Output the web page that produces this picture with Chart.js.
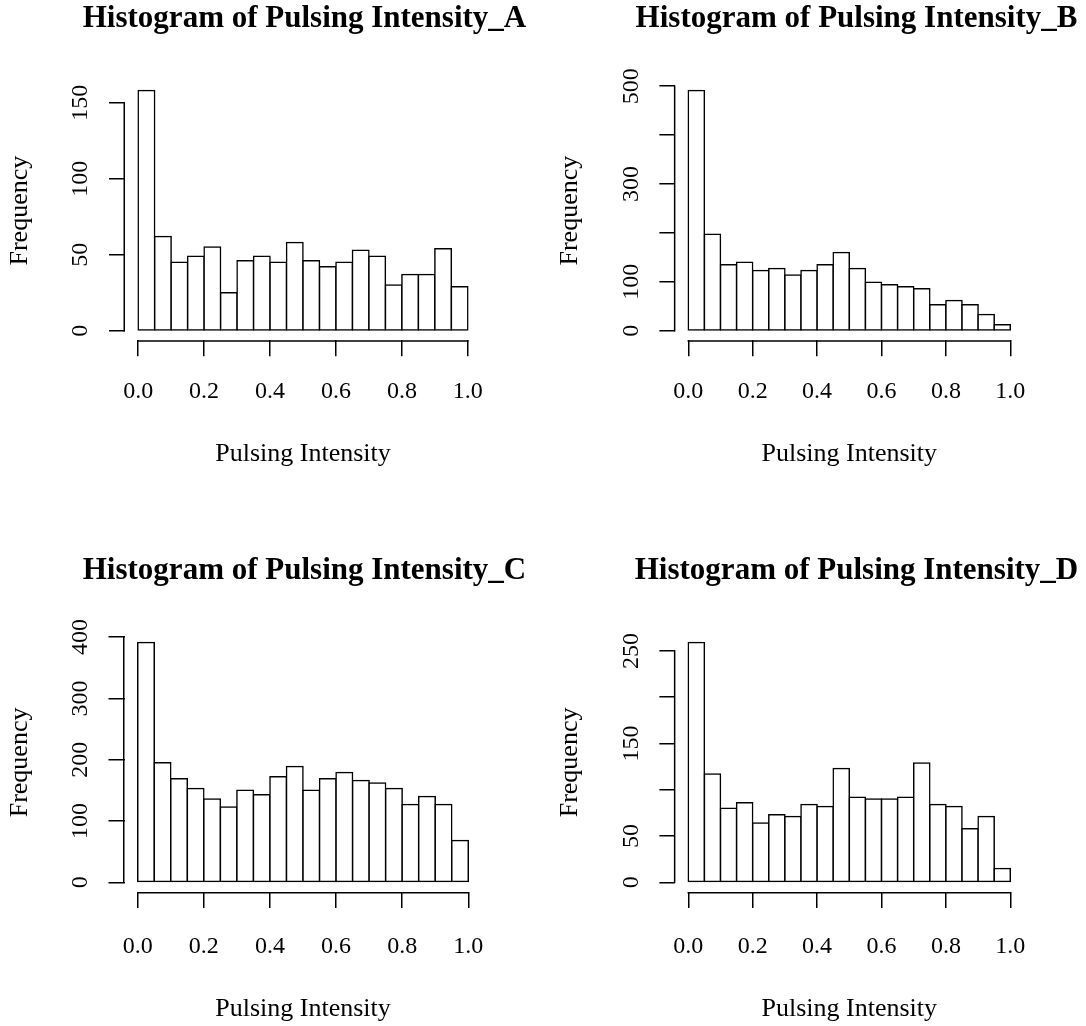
<!DOCTYPE html>
<html>
<head>
<meta charset="utf-8">
<title>Histograms of Pulsing Intensity</title>
<script src="https://cdn.jsdelivr.net/npm/chart.js@4.4.1/dist/chart.umd.min.js"></script>
<style>
  html, body { margin: 0; padding: 0; background: #ffffff; }
  #wrap { position: relative; width: 1086px; height: 1026px; overflow: hidden; background: #ffffff; }
  #wrap canvas { position: absolute; }
</style>
</head>
<body>
<div id="wrap">
  <canvas id="histA"></canvas>
  <canvas id="histB"></canvas>
  <canvas id="histC"></canvas>
  <canvas id="histD"></canvas>
</div>
<script>
// histogram bins: breaks every 0.05 from 0 to 1
const breaks = [0, 0.05, 0.1, 0.15, 0.2, 0.25, 0.3, 0.35, 0.4, 0.45, 0.5,
                0.55, 0.6, 0.65, 0.7, 0.75, 0.8, 0.85, 0.9, 0.95, 1.0];

// counts per bin
const countsA = [158, 62, 45, 49, 55, 25, 46, 49, 45, 58, 46, 42, 45, 53, 49, 30, 37, 37, 54, 29];
const countsB = [491, 197, 135, 140, 123, 127, 114, 123, 135, 160, 127, 99, 94, 90, 86, 53, 62, 53, 33, 12];
const countsC = [391, 195, 169, 153, 136, 123, 150, 143, 172, 189, 150, 169, 179, 166, 162, 153, 127, 140, 127, 68];
const countsD = [259, 117, 80, 86, 64, 73, 71, 84, 82, 123, 92, 90, 90, 92, 129, 84, 82, 58, 71, 15];

const xTicks = [0, 0.2, 0.4, 0.6, 0.8, 1.0];
const xTickLabels = ['0.0', '0.2', '0.4', '0.6', '0.8', '1.0'];

// R drops overlapping labels, so some ticks stay unlabelled
const yTicksA = [0, 50, 100, 150];
const yLabelsA = ['0', '50', '100', '150'];
const yTicksB = [0, 100, 200, 300, 400, 500];
const yLabelsB = ['0', '100', '', '300', '', '500'];
const yTicksC = [0, 100, 200, 300, 400];
const yLabelsC = ['0', '100', '200', '300', '400'];
const yTicksD = [0, 50, 100, 150, 200, 250];
const yLabelsD = ['0', '50', '', '150', '', '250'];

const titles = [
  'Histogram of Pulsing Intensity_A',
  'Histogram of Pulsing Intensity_B',
  'Histogram of Pulsing Intensity_C',
  'Histogram of Pulsing Intensity_D'
];
const xTitle = 'Pulsing Intensity';
const yTitle = 'Frequency';

const SERIF = "'Liberation Serif', 'Times New Roman', serif";
const INK = '#000000';
const LINE = 1.5;
const TICK_LEN = 16;

Chart.defaults.color = INK;

// placement of each panel on the page and of its plot region inside the canvas
const panels = [
  { id: 'histA', counts: countsA, yTicks: yTicksA, yLabels: yLabelsA, title: titles[0],
    left: 0, top: 0, width: 543, height: 490, area: { l: 125, r: 481, t: 81, b: 340.3 },
    titleX: 304.5, labelGap: 21, titleGap: 20 },
  { id: 'histB', counts: countsB, yTicks: yTicksB, yLabels: yLabelsB, title: titles[1],
    left: 550, top: 0, width: 536, height: 490, area: { l: 125.4, r: 473.2, t: 81, b: 340.3 },
    titleX: 306.5, labelGap: 21, titleGap: 20 },
  { id: 'histC', counts: countsC, yTicks: yTicksC, yLabels: yLabelsC, title: titles[2],
    left: 0, top: 552, width: 543, height: 474, area: { l: 124.5, r: 481.5, t: 81, b: 339.9 },
    titleX: 304.5, labelGap: 24, titleGap: 1 },
  { id: 'histD', counts: countsD, yTicks: yTicksD, yLabels: yLabelsD, title: titles[3],
    left: 550, top: 552, width: 536, height: 474, area: { l: 125.4, r: 473.2, t: 81, b: 339.9 },
    titleX: 306.5, labelGap: 24, titleGap: 1 }
];

// base-graphics style axes: the line only runs from the first to the last tick
const axisLines = {
  id: 'axisLines',
  afterDatasetsDraw(chart) {
    const { ctx, chartArea, scales: { x, y } } = chart;
    const x0 = x.getPixelForValue(x.ticks[0].value);
    const x1 = x.getPixelForValue(x.ticks[x.ticks.length - 1].value);
    const y0 = y.getPixelForValue(y.ticks[0].value);
    const y1 = y.getPixelForValue(y.ticks[y.ticks.length - 1].value);
    ctx.save();
    ctx.strokeStyle = INK;
    ctx.lineWidth = LINE;
    ctx.lineCap = 'square';
    ctx.beginPath();
    ctx.moveTo(x0, chartArea.bottom + LINE / 2);
    ctx.lineTo(x1, chartArea.bottom + LINE / 2);
    ctx.moveTo(chartArea.left - LINE / 2, y0);
    ctx.lineTo(chartArea.left - LINE / 2, y1);
    ctx.stroke();
    ctx.restore();
  }
};

// the main title is wider than the plot region; give its box room so it is not squeezed
const wideTitle = {
  id: 'wideTitle',
  afterLayout(chart, args, opts) {
    const t = chart.titleBlock;
    if (!t) return;
    const mid = opts.center;
    const half = Math.min(mid, chart.width - mid);
    t.left = mid - half;
    t.right = mid + half;
    t.width = 2 * half;
  }
};

function drawHistogram(p) {
  const canvas = document.getElementById(p.id);
  canvas.width = p.width;
  canvas.height = p.height;
  canvas.style.left = p.left + 'px';
  canvas.style.top = p.top + 'px';

  const peak = Math.max(...p.counts);
  const titleFont = { family: SERIF, size: 31, weight: 'bold', lineHeight: 1.2 };

  new Chart(canvas, {
    type: 'bar',
    data: {
      datasets: [{
        data: p.counts.map((n, i) => ({ x: (breaks[i] + breaks[i + 1]) / 2, y: n })),
        backgroundColor: '#ffffff',
        borderColor: INK,
        borderWidth: LINE,
        borderSkipped: false,
        // push each outline half a line outwards so neighbouring bars share one edge
        inflateAmount: LINE / 2,
        barPercentage: 1,
        categoryPercentage: 1
      }]
    },
    options: {
      responsive: false,
      animation: false,
      events: [],
      layout: { padding: { left: 0, top: 0, bottom: 0, right: p.width - p.area.r } },
      plugins: {
        legend: { display: false },
        tooltip: { enabled: false },
        wideTitle: { center: p.titleX },
        title: {
          display: true,
          text: p.title,
          fullSize: false,
          color: INK,
          font: titleFont,
          padding: { top: 0, bottom: p.area.t - titleFont.size * titleFont.lineHeight }
        }
      },
      scales: {
        x: {
          type: 'linear',
          bounds: 'data',
          offset: false,
          min: -0.04,
          max: 1.04,
          afterBuildTicks: s => { s.ticks = xTicks.map(v => ({ value: v })); },
          afterFit: s => { s.height = p.height - p.area.b; },
          ticks: {
            autoSkip: false,
            maxRotation: 0,
            padding: p.labelGap,
            color: INK,
            font: { family: SERIF, size: 24 },
            callback: (v, i) => xTickLabels[i]
          },
          grid: { offset: false, drawOnChartArea: false, drawTicks: true, tickLength: TICK_LEN, color: INK, lineWidth: LINE },
          border: { display: false },
          title: {
            display: true,
            text: xTitle,
            color: INK,
            font: { family: SERIF, size: 26 },
            padding: { top: 0, bottom: p.titleGap }
          }
        },
        y: {
          type: 'linear',
          bounds: 'data',
          min: -0.04 * peak,
          max: 1.04 * peak,
          afterBuildTicks: s => { s.ticks = p.yTicks.map(v => ({ value: v })); },
          afterFit: s => { s.width = p.area.l; },
          ticks: {
            autoSkip: false,
            minRotation: 90,
            maxRotation: 90,
            crossAlign: 'center',
            padding: 10,
            color: INK,
            font: { family: SERIF, size: 24 },
            callback: (v, i) => p.yLabels[i]
          },
          grid: { drawOnChartArea: false, drawTicks: true, tickLength: TICK_LEN, color: INK, lineWidth: LINE },
          border: { display: false },
          title: {
            display: true,
            text: yTitle,
            color: INK,
            font: { family: SERIF, size: 26 },
            padding: { top: 5, bottom: 0 }
          }
        }
      }
    },
    plugins: [axisLines, wideTitle]
  });
}

panels.forEach(drawHistogram);
</script>
</body>
</html>
